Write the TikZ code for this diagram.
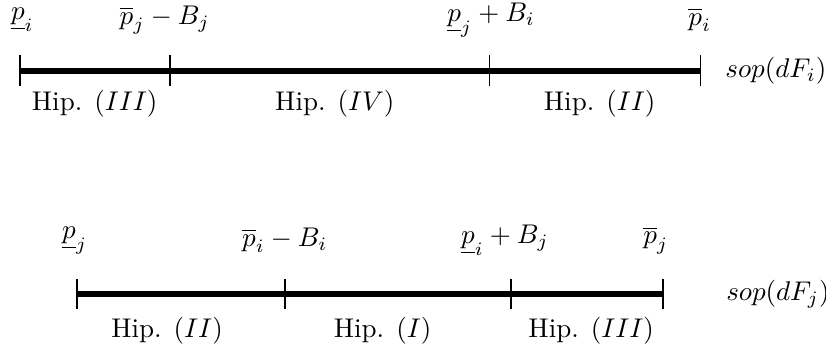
\documentclass[tikz,border=0pt]{standalone}
\usepackage{amsmath}
\usetikzlibrary{positioning}

\begin{document}
\begin{tikzpicture}[scale=1.0,
  support/.style={line width=2.2pt},
  tick/.style={semithick}]
\useasboundingbox (0,0) rectangle (10.73,4.56);

% sop(dF_i)
\coordinate (a0) at (0.26,3.64);
\coordinate (a1) at (2.21,3.64);
\coordinate (a2) at (6.36,3.64);
\coordinate (a3) at (9.10,3.64);
\draw[support] (a0) -- (a3);
\draw[tick] ([yshift=-0.2cm]a0) -- ([yshift=0.2cm]a0);
\draw[tick] ([yshift=-0.2cm]a1) -- ([yshift=0.2cm]a1);
\draw[tick] ([yshift=-0.2cm]a2) -- ([yshift=0.2cm]a2);
\draw[tick] ([yshift=-0.2cm]a3) -- ([yshift=0.2cm]a3);
\node (pi) at (0.29,4.30) {$\underline{p}_i$};
\node (pjBj) at (2.14,4.30) {$\overline{p}_j - B_j$};
\node (pjBi) at (6.38,4.30) {$\underline{p}_j + B_i$};
\node (pibar) at (9.09,4.30) {$\overline{p}_i$};
\node (h3a) at (1.23,3.21) {Hip. $(III)$};
\node (h4) at (4.35,3.21) {Hip. $(IV)$};
\node (h2a) at (7.79,3.21) {Hip. $(II)$};
\node[right=0.2cm of a3] (sopi) {$sop(dF_i)$};

% sop(dF_j)
\coordinate (b0) at (1.00,0.74);
\coordinate (b1) at (3.70,0.74);
\coordinate (b2) at (6.64,0.74);
\coordinate (b3) at (8.61,0.74);
\draw[support] (b0) -- (b3);
\draw[tick] ([yshift=-0.2cm]b0) -- ([yshift=0.2cm]b0);
\draw[tick] ([yshift=-0.2cm]b1) -- ([yshift=0.2cm]b1);
\draw[tick] ([yshift=-0.2cm]b2) -- ([yshift=0.2cm]b2);
\draw[tick] ([yshift=-0.2cm]b3) -- ([yshift=0.2cm]b3);
\node (pj) at (0.97,1.44) {$\underline{p}_j$};
\node (piBi) at (3.70,1.44) {$\overline{p}_i - B_i$};
\node (piBj) at (6.56,1.44) {$\underline{p}_i + B_j$};
\node (pjbar) at (8.52,1.44) {$\overline{p}_j$};
\node (h2b) at (2.17,0.27) {Hip. $(II)$};
\node (h1) at (4.97,0.27) {Hip. $(I)$};
\node (h3b) at (7.68,0.27) {Hip. $(III)$};
\node[right=0.7cm of b3] (sopj) {$sop(dF_j)$};
\end{tikzpicture}
\end{document}
